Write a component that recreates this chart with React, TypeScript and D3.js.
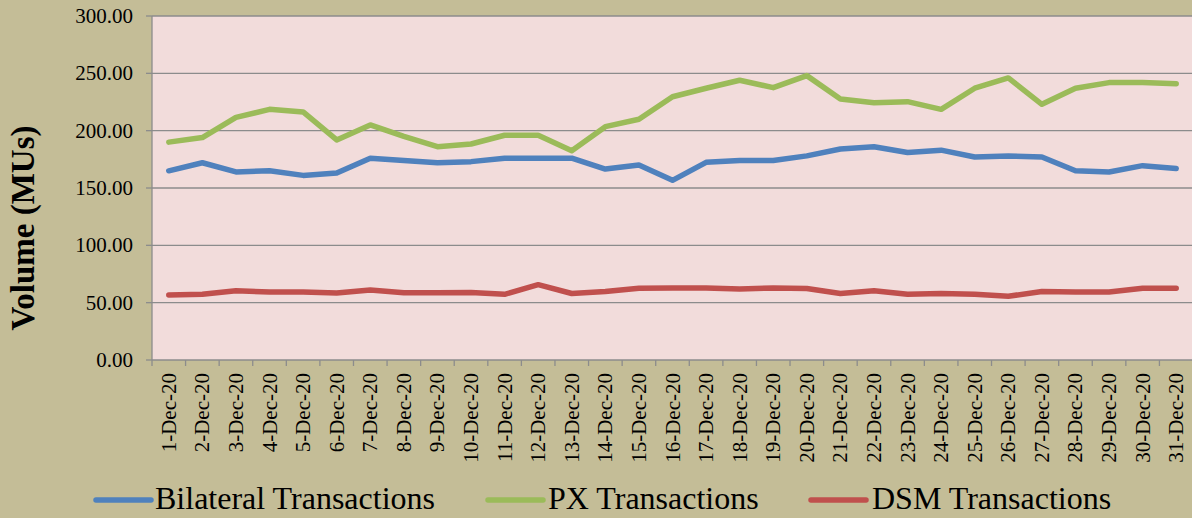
import React from "react";
import * as d3 from "d3";

const days: string[] = Array.from({ length: 31 }, (_, i) => `${i + 1}-Dec-20`);
const bilateral: number[] = [165, 172, 164, 165, 161, 163, 176, 174, 172, 173, 176, 176, 176, 166.5, 170, 156.7, 172.4, 174, 174, 178, 184, 186, 181, 183, 177, 178, 177, 165, 164, 169.5, 167];
const px: number[] = [190, 194, 211.6, 218.6, 216.3, 191.9, 205, 195, 186, 188.4, 196, 196, 182.5, 203.5, 210, 229.6, 237, 244, 237.5, 248, 227.6, 224.4, 225.3, 218.6, 237, 246, 223, 237, 241.9, 242, 241];
const dsm: number[] = [56.7, 57.3, 60.4, 59.3, 59.3, 58.4, 61, 58.7, 58.7, 58.9, 57.3, 65.7, 58, 59.7, 62.5, 62.8, 62.8, 61.9, 62.8, 62.3, 58, 60.4, 57.3, 58, 57.3, 55.6, 59.7, 59.3, 59.3, 62.5, 62.5];
const yTicks: number[] = [0, 50, 100, 150, 200, 250, 300];
const seriesNames: string[] = ["Bilateral Transactions", "PX Transactions", "DSM Transactions"];
const seriesColors: string[] = ["#4F81BD", "#9BBB59", "#C0504D"];

const W = 1192, H = 518;
const left = 152, right = 1193, top = 16, bottom = 360;
const font = "Liberation Serif";

export default function App() {
  const x = d3.scaleBand<string>().domain(days).range([left, right]).padding(0);
  const y = d3.scaleLinear().domain([0, 300]).range([bottom, top]);
  const line = d3.line<number>()
    .x((_, i) => (x(days[i]) as number) + x.bandwidth() / 2)
    .y((d) => y(d));
  const series = [bilateral, px, dsm];
  const legendX = [96, 488, 811];
  const legendTextX = [155, 548, 872];
  const ts = { fontFamily: font };
  return (
    <svg width={W} height={H} style={{ position: "absolute", left: 0, top: 0, display: "block", fontFamily: font }}>
      <rect x={0} y={0} width={W} height={H} fill="#C4BD97" />
      <rect x={left} y={top} width={right - left} height={bottom - top} fill="#F2DCDB" />
      {yTicks.map((t) => (
        <g key={t}>
          {t > 0 && <line x1={left} x2={right} y1={y(t)} y2={y(t)} stroke="#8C8C8C" strokeWidth={1.3} />}
          <line x1={left - 6} x2={left} y1={y(t)} y2={y(t)} stroke="#8C8C8C" strokeWidth={1.3} />
          <text x={133} y={y(t)} dy="0.34em" textAnchor="end" fontSize={21} fill="#000" style={ts}>{t.toFixed(2)}</text>
        </g>
      ))}
      <line x1={left} x2={left} y1={top} y2={bottom} stroke="#8C8C8C" strokeWidth={1.3} />
      <line x1={left} x2={right} y1={bottom} y2={bottom} stroke="#8C8C8C" strokeWidth={1.3} />
      {days.map((d) => (
        <line key={"t" + d} x1={(x(d) as number)} x2={(x(d) as number)} y1={bottom} y2={bottom + 6} stroke="#8C8C8C" strokeWidth={1.3} />
      ))}
      {days.map((d) => {
        const cx = (x(d) as number) + x.bandwidth() / 2;
        return (
          <text key={d} transform={`translate(${cx + 7},${373}) rotate(-90)`} textAnchor="end" fontSize={21} fill="#000" style={ts}>{d}</text>
        );
      })}
      {series.map((s, i) => (
        <path key={i} d={line(s) as string} fill="none" stroke={seriesColors[i]} strokeWidth={5.5} strokeLinejoin="round" strokeLinecap="round" />
      ))}
      <text transform={`translate(34,228) rotate(-90)`} textAnchor="middle" fontSize={33} fontWeight="bold" fill="#000" style={ts}>Volume (MUs)</text>
      {seriesNames.map((n, i) => (
        <g key={n}>
          <line x1={legendX[i]} x2={legendX[i] + 55} y1={500} y2={500} stroke={seriesColors[i]} strokeWidth={5.5} strokeLinecap="round" />
          <text x={legendTextX[i]} y={509} fontSize={32} fill="#000" style={ts}>{n}</text>
        </g>
      ))}
    </svg>
  );
}
